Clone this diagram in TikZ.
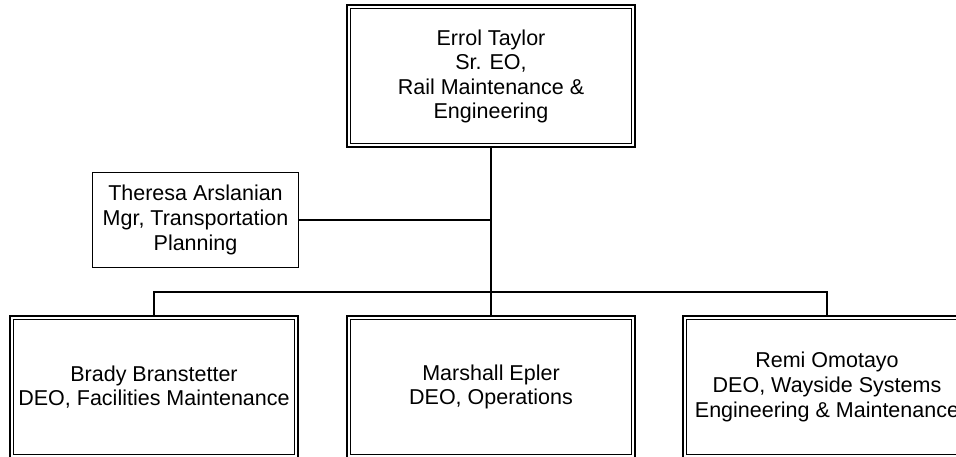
\documentclass[tikz,border=0pt]{standalone}
\usepackage{fontspec}
\setmainfont{Liberation Sans}
\newcommand{\orgfont}{\fontsize{21.5}{24.6}\selectfont}
\tikzset{
  headbox/.style  ={draw, rectangle, minimum width=288pt, minimum height=142pt, inner sep=0pt, line width=2pt, align=center, font=\orgfont},
  staffbox/.style ={draw, rectangle, minimum width=206pt, minimum height=95pt, inner sep=0pt, line width=1.6pt, align=center, font=\orgfont},
  innerframe/.style={line width=1pt},                 % thin inner line of the double frame
  link/.style     ={line width=1.6pt},
}

\begin{document}
\begin{tikzpicture}[x=1pt, y=-1pt]
  \clip (0,0) rectangle (956,457);

  % head
  \node[headbox] (taylor) at (491,76.5) {Errol Taylor\\Sr. EO,\\Rail Maintenance \&\\Engineering};

  % staff
  \node[staffbox] (arslanian) at (195.5,220) {Theresa Arslanian\\Mgr, Transportation\\Planning};

  % deputies
  \node[headbox] (branstetter) at (154,387) {Brady Branstetter\\DEO, Facilities Maintenance};
  \node[headbox] (epler)       at (491,387) {Marshall Epler\\DEO, Operations};
  \node[headbox] (omotayo)     at (827,387) {Remi Omotayo\\DEO, Wayside Systems\\Engineering \& Maintenance};

  \foreach \n in {taylor, branstetter, epler, omotayo}
    \draw[innerframe] ([shift={(4.5pt,4.5pt)}]\n.south west) rectangle ([shift={(-4.5pt,-4.5pt)}]\n.north east);

  % connectors
  \coordinate (bus) at (491,292);
  \draw[link] (taylor.south) -- (epler.north);
  \draw[link] (arslanian.east) -- (arslanian.east -| taylor.south);
  \draw[link] (branstetter.north) |- (bus) -| (omotayo.north);
\end{tikzpicture}
\end{document}
